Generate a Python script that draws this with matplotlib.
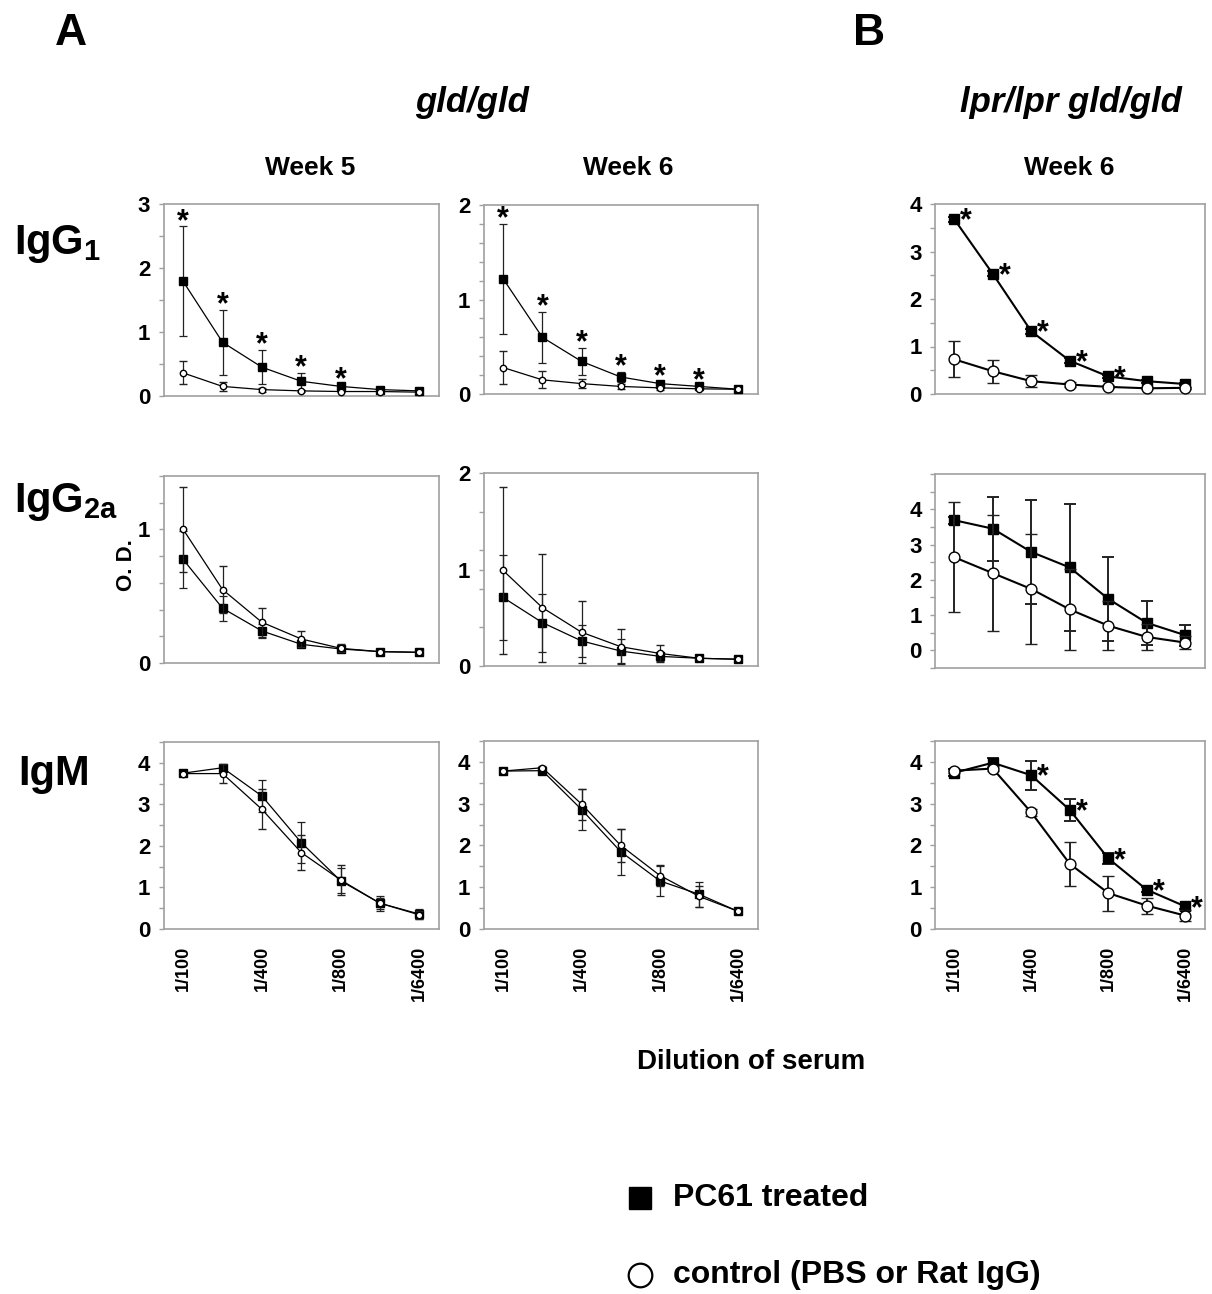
"""Anti-DNA ELISA titration curves, PC61 treated vs control (gld/gld and lpr/lpr gld/gld)."""

import matplotlib
matplotlib.use("Agg")
import matplotlib.pyplot as plt
from matplotlib.ticker import FixedLocator, MultipleLocator
import numpy as np

plt.rcParams["font.family"] = ["Liberation Sans", "DejaVu Sans"]
plt.rcParams["font.weight"] = "bold"
plt.rcParams["mathtext.fontset"] = "custom"
plt.rcParams["mathtext.rm"] = "Liberation Sans:bold"
plt.rcParams["mathtext.bf"] = "Liberation Sans:bold"

W, H, DPI = 1212, 1294, 100

# ---- data -------------------------------------------------------------------
dilution_labels = ["1/100", "1/400", "1/800", "1/6400"]
dilution_pos = [0, 2, 4, 6]
n_points = 7

# IgG1
igg1_w5_pc61 = [1.79, 0.84, 0.45, 0.23, 0.15, 0.10, 0.08]
igg1_w5_pc61_err = [0.86, 0.51, 0.27, 0.13, 0.03, 0.02, 0.01]
igg1_w5_ctrl = [0.36, 0.15, 0.10, 0.08, 0.07, 0.07, 0.06]
igg1_w5_ctrl_err = [0.18, 0.07, 0.03, 0.02, 0.01, 0.01, 0.01]
igg1_w5_stars = [0, 1, 2, 3, 4]

igg1_w6_pc61 = [1.22, 0.60, 0.345, 0.18, 0.11, 0.08, 0.05]
igg1_w6_pc61_err = [0.58, 0.27, 0.14, 0.05, 0.02, 0.01, 0.01]
igg1_w6_ctrl = [0.28, 0.15, 0.11, 0.08, 0.065, 0.055, 0.05]
igg1_w6_ctrl_err = [0.17, 0.09, 0.05, 0.03, 0.02, 0.01, 0.01]
igg1_w6_stars = [0, 1, 2, 3, 4, 5]

igg1_lpr_pc61 = [3.68, 2.53, 1.32, 0.70, 0.37, 0.27, 0.21]
igg1_lpr_pc61_err = [0.05, 0.05, 0.05, 0.05, 0.04, 0.03, 0.03]
igg1_lpr_ctrl = [0.73, 0.48, 0.27, 0.20, 0.15, 0.12, 0.13]
igg1_lpr_ctrl_err = [0.38, 0.24, 0.13, 0.05, 0.03, 0.02, 0.02]
igg1_lpr_stars = [0, 1, 2, 3, 4]

# IgG2a
igg2a_w5_pc61 = [0.775, 0.41, 0.24, 0.14, 0.105, 0.085, 0.08]
igg2a_w5_pc61_err = [0.21, 0.095, 0.05, 0.02, 0.02, 0.01, 0.01]
igg2a_w5_ctrl = [1.00, 0.55, 0.305, 0.18, 0.11, 0.085, 0.08]
igg2a_w5_ctrl_err = [0.32, 0.175, 0.11, 0.06, 0.03, 0.01, 0.01]

igg2a_w6_pc61 = [0.71, 0.45, 0.26, 0.155, 0.10, 0.08, 0.07]
igg2a_w6_pc61_err = [0.44, 0.30, 0.17, 0.12, 0.05, 0.01, 0.01]
igg2a_w6_ctrl = [0.99, 0.605, 0.35, 0.20, 0.13, 0.08, 0.07]
igg2a_w6_ctrl_err = [0.87, 0.56, 0.32, 0.18, 0.09, 0.01, 0.01]

igg2a_lpr_pc61 = [3.69, 3.45, 2.79, 2.35, 1.46, 0.78, 0.43]
igg2a_lpr_pc61_err = [0.10, 0.91, 1.47, 1.80, 1.19, 0.63, 0.30]
igg2a_lpr_ctrl = [2.64, 2.19, 1.74, 1.16, 0.70, 0.38, 0.22]
igg2a_lpr_ctrl_err = [1.56, 1.64, 1.55, 1.16, 0.70, 0.38, 0.19]

# IgM
igm_w5_pc61 = [3.75, 3.88, 3.20, 2.08, 1.16, 0.62, 0.36]
igm_w5_pc61_err = [0.05, 0.05, 0.38, 0.50, 0.30, 0.18, 0.12]
igm_w5_ctrl = [3.74, 3.74, 2.88, 1.84, 1.18, 0.62, 0.34]
igm_w5_ctrl_err = [0.04, 0.22, 0.48, 0.42, 0.35, 0.13, 0.10]

igm_w6_pc61 = [3.78, 3.79, 2.86, 1.85, 1.15, 0.83, 0.42]
igm_w6_pc61_err = [0.03, 0.03, 0.50, 0.55, 0.35, 0.30, 0.03]
igm_w6_ctrl = [3.78, 3.86, 2.99, 2.00, 1.28, 0.78, 0.42]
igm_w6_ctrl_err = [0.03, 0.03, 0.37, 0.40, 0.25, 0.26, 0.03]

igm_lpr_pc61 = [3.74, 3.98, 3.68, 2.85, 1.69, 0.94, 0.54]
igm_lpr_pc61_err = [0.08, 0.12, 0.35, 0.27, 0.13, 0.06, 0.05]
igm_lpr_ctrl = [3.79, 3.84, 2.79, 1.56, 0.86, 0.56, 0.32]
igm_lpr_ctrl_err = [0.05, 0.05, 0.08, 0.52, 0.42, 0.19, 0.14]
igm_lpr_stars = [2, 3, 4, 5, 6]

# ---- layout (pixels in the 1212x1294 canvas) -------------------------------
col_x = [(163.5, 439.0), (483.5, 758.0), (935.0, 1204.5)]
row_y = {
    0: [(204, 396), (205, 394), (204, 394)],
    1: [(476, 663), (473, 666), (474, 668)],
    2: [(742, 929), (741, 929), (741, 929)],
}

GRAY = "#a0a0a0"


def px_axes(fig, x0, x1, y0, y1):
    return fig.add_axes([x0 / W, 1 - y1 / H, (x1 - x0) / W, (y1 - y0) / H])


def draw_panel(ax, pc61, pc61_err, ctrl, ctrl_err, ylim, majors, minor_step,
               stars=(), star_side="above", big=False, bottom=False):
    x = np.arange(n_points)
    lw = 1.5 if big else 0.9
    ms_sq = 7.0 if big else 5.6
    ms_ci = 7.8 if big else 4.6
    cap = 4.3 if big else 3.0
    elw = 1.4 if big else 0.9

    ax.errorbar(x, pc61, yerr=pc61_err, color="black", lw=lw, marker="s",
                ms=ms_sq, mfc="black", mec="black", ecolor="#222222",
                elinewidth=elw, capsize=cap, capthick=elw, zorder=3)
    ax.errorbar(x, ctrl, yerr=ctrl_err, color="black", lw=lw, marker="o",
                ms=ms_ci, mfc="white", mec="black", mew=1.0,
                ecolor="#222222", elinewidth=elw, capsize=cap,
                capthick=elw, zorder=4)

    for i in stars:
        if star_side == "above":
            ax.annotate("*", xy=(i, pc61[i] + pc61_err[i]), xytext=(0, -2.5),
                        textcoords="offset points", ha="center",
                        va="baseline", fontsize=22, fontweight="bold")
        else:
            ax.annotate("*", xy=(i, pc61[i]), xytext=(8.5, -7.5),
                        textcoords="offset points", ha="center",
                        va="baseline", fontsize=22, fontweight="bold")

    ax.set_xlim(-0.5, 6.5)
    ax.set_ylim(*ylim)
    ax.yaxis.set_major_locator(FixedLocator(majors))
    ax.yaxis.set_minor_locator(MultipleLocator(minor_step))
    ax.set_yticklabels([f"{m:g}" for m in majors], fontsize=16,
                       fontweight="bold")
    ax.tick_params(axis="y", which="both", direction="out", length=3.5,
                   width=1.0, color=GRAY, pad=6)
    ax.set_xticks(dilution_pos)
    ax.tick_params(axis="x", length=0, pad=12)
    if bottom:
        ax.set_xticklabels(dilution_labels, rotation=90, fontsize=13,
                           fontweight="bold", va="top")
    else:
        ax.set_xticklabels([])
    for sp in ax.spines.values():
        sp.set_color(GRAY)
        sp.set_linewidth(1.2)


fig = plt.figure(figsize=(W / DPI, H / DPI), dpi=DPI)

panels = [
    (0, 0, igg1_w5_pc61, igg1_w5_pc61_err, igg1_w5_ctrl, igg1_w5_ctrl_err,
     (0, 3), [0, 1, 2, 3], 0.5, igg1_w5_stars, "above"),
    (0, 1, igg1_w6_pc61, igg1_w6_pc61_err, igg1_w6_ctrl, igg1_w6_ctrl_err,
     (0, 2), [0, 1, 2], 0.2, igg1_w6_stars, "above"),
    (0, 2, igg1_lpr_pc61, igg1_lpr_pc61_err, igg1_lpr_ctrl, igg1_lpr_ctrl_err,
     (0, 4), [0, 1, 2, 3, 4], 0.5, igg1_lpr_stars, "right"),
    (1, 0, igg2a_w5_pc61, igg2a_w5_pc61_err, igg2a_w5_ctrl, igg2a_w5_ctrl_err,
     (0, 1.4), [0, 1], 0.2, (), "above"),
    (1, 1, igg2a_w6_pc61, igg2a_w6_pc61_err, igg2a_w6_ctrl, igg2a_w6_ctrl_err,
     (0, 2), [0, 1, 2], 0.4, (), "above"),
    (1, 2, igg2a_lpr_pc61, igg2a_lpr_pc61_err, igg2a_lpr_ctrl,
     igg2a_lpr_ctrl_err, (-0.5, 5), [0, 1, 2, 3, 4], 0.5, (), "right"),
    (2, 0, igm_w5_pc61, igm_w5_pc61_err, igm_w5_ctrl, igm_w5_ctrl_err,
     (0, 4.5), [0, 1, 2, 3, 4], 0.5, (), "above"),
    (2, 1, igm_w6_pc61, igm_w6_pc61_err, igm_w6_ctrl, igm_w6_ctrl_err,
     (0, 4.5), [0, 1, 2, 3, 4], 0.5, (), "above"),
    (2, 2, igm_lpr_pc61, igm_lpr_pc61_err, igm_lpr_ctrl, igm_lpr_ctrl_err,
     (0, 4.5), [0, 1, 2, 3, 4], 0.5, igm_lpr_stars, "right"),
]

for (r, c, pc, pce, ct, cte, ylim, majors, minor, stars, side) in panels:
    x0, x1 = col_x[c]
    y0, y1 = row_y[r][c]
    ax = px_axes(fig, x0, x1, y0, y1)
    draw_panel(ax, pc, pce, ct, cte, ylim, majors, minor, stars=stars,
               star_side=side, big=(c == 2), bottom=(r == 2))

# ---- annotations in pixel coordinates ------------------------------------
ov = fig.add_axes([0, 0, 1, 1], zorder=10)
ov.set_xlim(0, W)
ov.set_ylim(H, 0)
ov.axis("off")

ov.text(71, 45, "A", fontsize=32, ha="center", va="baseline")
ov.text(869, 45, "B", fontsize=32, ha="center", va="baseline")
ov.text(472, 112, "gld/gld", fontsize=25, style="italic", ha="center",
        va="baseline")
ov.text(1071, 112, "lpr/lpr gld/gld", fontsize=25, style="italic",
        ha="center", va="baseline")
ov.text(310, 175, "Week 5", fontsize=19, ha="center", va="baseline")
ov.text(628, 175, "Week 6", fontsize=19, ha="center", va="baseline")
ov.text(1069, 175, "Week 6", fontsize=19, ha="center", va="baseline")

ov.text(14, 254, r"IgG$_\mathbf{1}$", fontsize=30, ha="left", va="baseline")
ov.text(14, 512, r"IgG$_\mathbf{2a}$", fontsize=30, ha="left", va="baseline")
ov.text(18, 785, "IgM", fontsize=30, ha="left", va="baseline")
ov.text(127, 565, "O. D.", fontsize=16, rotation=90, ha="center",
        va="center")

ov.text(751, 1062, "Dilution of serum", fontsize=20, ha="center",
        va="center")

ov.plot([640], [1198], marker="s", ms=16, color="black", ls="none")
ov.plot([640], [1275], marker="o", ms=17, mfc="white", mec="black", mew=1.6,
        ls="none")
ov.text(673, 1198, "PC61 treated", fontsize=23, ha="left", va="center")
ov.text(673, 1275, "control (PBS or Rat IgG)", fontsize=23, ha="left",
        va="center")

fig.savefig("out.png", dpi=DPI)
